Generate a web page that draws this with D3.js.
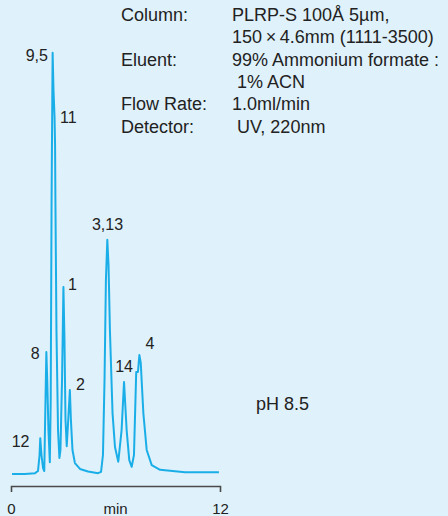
<!DOCTYPE html>
<meta charset="utf-8">
<style>
html, body { margin: 0; padding: 0; background: #dff1fa; }
svg { display: block; font-family: "Liberation Sans", Arial, sans-serif; }
.axis .domain { stroke: #4a4a4a; stroke-width: 1.6; }
.axis .tick line { display: none; }
.axis text { fill: #222; font-size: 15px; }
</style>
<svg width="448" height="516"></svg>
<script src="https://d3js.org/d3.v7.min.js"></script>
<script>

// retention time (min) and detector signal (% of largest peak)
var times = [0.06, 0.80, 1.38, 1.55, 1.64, 1.68, 1.75, 1.84, 1.91, 1.96, 2.03, 2.08, 2.15, 2.23,
  2.28, 2.33, 2.37, 2.39, 2.44, 2.50, 2.53, 2.55, 2.61, 2.70, 2.78, 2.84, 2.93, 3.01, 3.07, 3.13,
  3.20, 3.27, 3.38, 3.44, 3.53, 3.67, 3.96, 4.42, 5.00, 5.17, 5.28, 5.37, 5.45, 5.53, 5.60, 5.68,
  5.83, 5.97, 6.16, 6.35, 6.49, 6.64, 6.79, 6.93, 7.06, 7.19, 7.29, 7.37, 7.45, 7.60, 7.79, 8.08,
  8.56, 9.99, 11.94];
var signal = [0, 0, 0.2, 0.7, 4.5, 8.5, 4.5, 1.4, 0.7, 12.8, 28.9, 22.3, 10.4, 2.8,
  17.5, 64.9, 88.6, 99.8, 91, 84.6, 78, 64.9, 34, 10.4, 3.8, 5.7, 22.3, 44.3, 31.8, 12.8,
  6.6, 11.6, 19.9, 12.8, 5.7, 2.6, 1.2, 0.6, 0.2, 0.5, 4.5, 22.3, 46, 55.5, 49.5, 34,
  14.4, 6.4, 2.9, 10.4, 21.8, 10.4, 3.3, 1.7, 4.5, 24.2, 24.2, 28.2, 26.3, 14.4, 5.7, 2.1,
  1, 0.4, 0.4];

var peakNames = ["9,5", "11", "1", "8", "2", "12", "3,13", "14", "4"];
var peakLabelT = [2.12, 2.81, 3.27, 1.64, 3.73, 1.06, 5.54, 6.49, 7.72];
var peakLabelS = [97.9, 83.2, 43.6, 27.3, 19.9, 6.4, 57.8, 24.2, 29.6];
var peakAnchor = ["end", "start", "start", "end", "start", "end", "middle", "middle", "start"];

var xTicks = [0, 12];
var xLabel = "min";

var conditions = [
  ["Column:", "PLRP-S 100Å 5µm,"],
  ["", "150\u2009×\u20094.6mm (1111-3500)"],
  ["Eluent:", "99% Ammonium formate :"],
  ["", " 1% ACN"],
  ["Flow Rate:", "1.0ml/min"],
  ["Detector:", " UV, 220nm"]
];
var phLabel = "pH 8.5";

var svg = d3.select("svg");

var x = d3.scaleLinear().domain([0, 12]).range([11, 220]);
var y = d3.scaleLinear().domain([0, 100]).range([474, 52]);

var data = times.map(function(t, i) { return {t: t, s: signal[i]}; });

var line = d3.line()
    .x(function(d) { return x(d.t); })
    .y(function(d) { return y(d.s); });

svg.append("path")
    .datum(data)
    .attr("fill", "none")
    .attr("stroke", "#1aaee8")
    .attr("stroke-width", 2)
    .attr("stroke-linejoin", "round")
    .attr("d", line);

var axis = svg.append("g")
    .attr("class", "axis")
    .attr("transform", "translate(0,486)")
    .call(d3.axisBottom(x).tickValues(xTicks).tickSize(6).tickPadding(11).tickFormat(d3.format("d")));
axis.selectAll("text").attr("font-family", null);
axis.attr("font-family", null).attr("font-size", null);

svg.append("text")
    .attr("x", (x(0) + x(12)) / 2)
    .attr("y", 514)
    .attr("text-anchor", "middle")
    .attr("font-size", 15)
    .attr("fill", "#222")
    .text(xLabel);

svg.append("g")
    .attr("font-size", 16)
    .attr("fill", "#222")
  .selectAll("text")
  .data(peakNames)
  .enter().append("text")
    .attr("x", function(d, i) { return x(peakLabelT[i]); })
    .attr("y", function(d, i) { return y(peakLabelS[i]); })
    .attr("text-anchor", function(d, i) { return peakAnchor[i]; })
    .text(function(d) { return d; });

var cond = svg.append("g")
    .attr("font-size", 18)
    .attr("fill", "#222")
  .selectAll("g")
  .data(conditions)
  .enter().append("g")
    .attr("transform", function(d, i) { return "translate(0," + (20.7 + i * 22.4) + ")"; });

cond.append("text")
    .attr("x", 121)
    .text(function(d) { return d[0]; });

cond.append("text")
    .attr("x", 232)
    .attr("xml:space", "preserve")
    .style("white-space", "pre")
    .text(function(d) { return d[1]; });

svg.append("text")
    .attr("x", 256)
    .attr("y", 410)
    .attr("font-size", 18)
    .attr("fill", "#222")
    .text(phLabel);

</script>
